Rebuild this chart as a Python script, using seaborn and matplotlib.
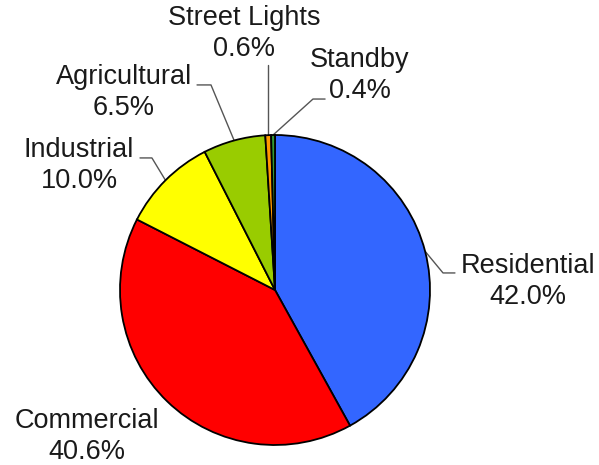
import numpy as np
import matplotlib
matplotlib.use('Agg')
import matplotlib.pyplot as plt
import seaborn as sns

# ============================================================
# ДАННЫЕ
# ============================================================
categories = ['Residential', 'Commercial', 'Industrial', 'Agricultural', 'Street Lights', 'Standby']
shares = [42.0, 40.6, 10.0, 6.5, 0.6, 0.4]
colors = ['#3366FF', '#FF0000', '#FFFF00', '#99CC00', '#FF9900', '#339933']

# положение подписей (координаты осей, радиус пирога = 1) и излом выноски
label_xy = {
    'Residential': (1.632, 0.052),
    'Commercial': (-1.213, -0.948),
    'Industrial': (-1.264, 0.806),
    'Agricultural': (-0.974, 1.271),
    'Street Lights': (-0.200, 1.658),
    'Standby': (0.548, 1.387),
}
elbow = {
    'Residential': [(1.084, 0.110), (1.161, 0.110)],
    'Industrial': [(-0.794, 0.852), (-0.871, 0.852)],
    'Agricultural': [(-0.413, 1.323), (-0.503, 1.323)],
    'Street Lights': [(None, 1.452)],
    'Standby': [(0.245, 1.232), (0.323, 1.232)],
}

sns.set_theme(style='white')
plt.rcParams['font.family'] = ['Liberation Sans', 'DejaVu Sans']

fig = plt.figure(figsize=(5.99, 4.65), dpi=100)
ax = fig.add_axes([0, 0, 1, 1])
cx, cy, r = 275, 290, 155

wedges, _ = ax.pie(shares, colors=colors, startangle=90, counterclock=False,
                   wedgeprops={'edgecolor': 'black', 'linewidth': 1.3}, radius=1)

ax.set_xlim(-cx / r, (599 - cx) / r)
ax.set_ylim((cy - 465) / r, cy / r)
ax.set_aspect('equal')
ax.axis('off')

for w, name, val in zip(wedges, categories, shares):
    tx, ty = label_xy[name]
    ax.text(tx, ty, f'{name}\n{val:.1f}%', ha='center', va='center',
            fontsize=19.5, color='#1a1a1a', linespacing=1.25)
    if name in elbow:
        ang = np.deg2rad((w.theta1 + w.theta2) / 2)
        px, py = np.cos(ang), np.sin(ang)
        pts = [(px, py)]
        for ex, ey in elbow[name]:
            pts.append((px if ex is None else ex, ey))
        xs, ys = zip(*pts)
        ax.plot(xs, ys, color='#555555', lw=1.0, clip_on=False, zorder=0)

plt.savefig('out.png', dpi=100)
